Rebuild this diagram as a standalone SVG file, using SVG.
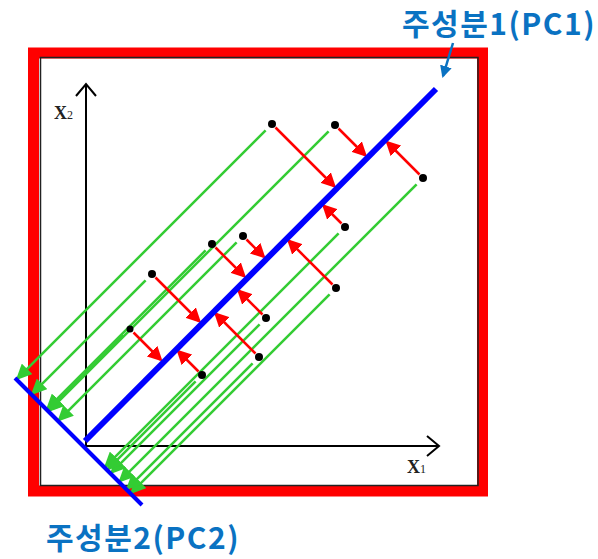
<svg xmlns="http://www.w3.org/2000/svg" width="598" height="559" viewBox="0 0 598 559">
<style>
.red{stroke:#ff0000;stroke-width:2.5;fill:none;marker-end:url(#ahRed)}
.grn{stroke:#33cc33;stroke-width:2.5;fill:none;marker-end:url(#ahGrn)}
.dot{fill:#000}
.ax{stroke:#000;stroke-width:2;fill:none}
.lbl{font-family:"Noto Sans CJK KR","Noto Sans",sans-serif;font-weight:bold;font-size:30px;letter-spacing:1.5px;fill:#0a72c2}
.xl{font-family:"Liberation Serif",serif;font-weight:bold;font-size:18px;fill:#222}
.sub{font-weight:normal;font-size:12px}
</style>
<defs>
<marker id="ahRed" viewBox="0 0 15 15" refX="12" refY="7.5" markerWidth="15" markerHeight="15" markerUnits="userSpaceOnUse" orient="auto"><path d="M0,0 L15,7.5 L0,15 z" fill="#ff0000"/></marker>
<marker id="ahGrn" viewBox="0 0 16 15" refX="13" refY="7.5" markerWidth="16" markerHeight="15" markerUnits="userSpaceOnUse" orient="auto"><path d="M0,0 L16,7.5 L0,15 z" fill="#33cc33"/></marker>
<marker id="ahBlue" viewBox="0 0 12 12" refX="10" refY="6" markerWidth="12" markerHeight="12" markerUnits="userSpaceOnUse" orient="auto"><path d="M0,0 L12,6 L0,12 z" fill="#0a72c2"/></marker>
</defs>
<rect width="598" height="559" fill="#fff"/>
<g id="frame">
<rect x="33.5" y="53" width="449" height="438" fill="none" stroke="#ff0000" stroke-width="11"/>
<rect x="40.5" y="57.5" width="437.5" height="428" fill="none" stroke="#222" stroke-width="1.5"/>
</g>
<g id="axes">
<line class="ax" x1="86" y1="84" x2="86" y2="446"/>
<line class="ax" x1="86" y1="446" x2="439" y2="446"/>
<polyline class="ax" points="76,96 86,84 96,96"/>
<polyline class="ax" points="427,436 439,446 427,456"/>
<text class="xl" x="54" y="119">X<tspan class="sub">2</tspan></text>
<text class="xl" x="407" y="473">X<tspan class="sub">1</tspan></text>
</g>
<g id="connectors">
<line class="grn" x1="265.6" y1="130.4" x2="17.9" y2="378.1"/>
<line class="grn" x1="328.6" y1="131.4" x2="49.9" y2="410.1"/>
<line class="grn" x1="416.6" y1="184.4" x2="120.4" y2="480.6"/>
<line class="grn" x1="338.6" y1="233.4" x2="105.9" y2="466.1"/>
<line class="grn" x1="205.6" y1="250.4" x2="47.9" y2="408.1"/>
<line class="grn" x1="236.6" y1="242.4" x2="59.4" y2="419.6"/>
<line class="grn" x1="145.6" y1="280.4" x2="32.9" y2="393.1"/>
<line class="grn" x1="329.6" y1="294.4" x2="131.9" y2="492.1"/>
<line class="grn" x1="259.6" y1="324.4" x2="111.9" y2="472.1"/>
<line class="grn" x1="123.6" y1="335.4" x2="49.4" y2="409.6"/>
<line class="grn" x1="252.6" y1="363.4" x2="127.9" y2="488.1"/>
<line class="grn" x1="195.6" y1="381.4" x2="108.4" y2="468.6"/>
<line class="red" x1="275.5" y1="127.5" x2="334" y2="186"/>
<line class="red" x1="338.5" y1="128.5" x2="365" y2="155"/>
<line class="red" x1="419.5" y1="174.5" x2="387.5" y2="142.5"/>
<line class="red" x1="341.5" y1="223.5" x2="324" y2="206"/>
<line class="red" x1="215.5" y1="247.5" x2="244" y2="276"/>
<line class="red" x1="246.5" y1="239.5" x2="263.5" y2="256.5"/>
<line class="red" x1="155.5" y1="277.5" x2="199" y2="321"/>
<line class="red" x1="332.5" y1="284.5" x2="289" y2="241"/>
<line class="red" x1="262.5" y1="314.5" x2="239" y2="291"/>
<line class="red" x1="133.5" y1="332.5" x2="160.5" y2="359.5"/>
<line class="red" x1="255.5" y1="353.5" x2="216" y2="314"/>
<line class="red" x1="198.5" y1="371.5" x2="178.5" y2="351.5"/>
</g>
<g id="pc1">
<line x1="85" y1="441" x2="436" y2="89" stroke="#0000ff" stroke-width="6"/>
<line x1="453" y1="43" x2="443" y2="76" stroke="#0a72c2" stroke-width="2.5" marker-end="url(#ahBlue)"/>
<text class="lbl" x="402" y="35">주성분1(PC1)</text>
</g>
<g id="pc2">
<line x1="15" y1="378" x2="142" y2="505" stroke="#0000ff" stroke-width="4"/>
<text class="lbl" x="46" y="549">주성분2(PC2)</text>
</g>
<g id="points">
<circle class="dot" cx="272" cy="124" r="4"/>
<circle class="dot" cx="335" cy="125" r="4"/>
<circle class="dot" cx="423" cy="178" r="4"/>
<circle class="dot" cx="345" cy="227" r="4"/>
<circle class="dot" cx="212" cy="244" r="4"/>
<circle class="dot" cx="243" cy="236" r="4"/>
<circle class="dot" cx="152" cy="274" r="4"/>
<circle class="dot" cx="336" cy="288" r="4"/>
<circle class="dot" cx="266" cy="318" r="4"/>
<circle class="dot" cx="130" cy="329" r="3.5"/>
<circle class="dot" cx="259" cy="357" r="4"/>
<circle class="dot" cx="202" cy="375" r="4"/>
</g>
</svg>
